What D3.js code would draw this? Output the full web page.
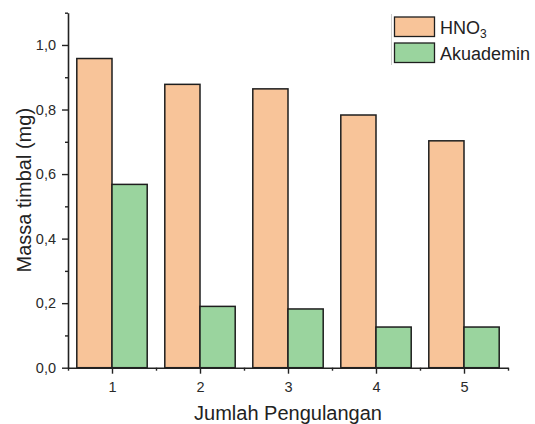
<!DOCTYPE html>
<html>
<head>
<meta charset="utf-8">
<script src="https://cdn.jsdelivr.net/npm/d3@7/dist/d3.min.js"></script>
<style>
  html, body { margin: 0; padding: 0; background: #fff; }
  svg { display: block; font-family: "Liberation Sans", Arial, sans-serif; }
</style>
</head>
<body>
<svg id="chart" width="535" height="424"></svg>
<script>
const categories = [1, 2, 3, 4, 5];
const hno3 = [0.958, 0.878, 0.864, 0.783, 0.703];
const akuademin = [0.568, 0.190, 0.182, 0.126, 0.126];
const seriesNames = ["HNO3", "Akuademin"];
const yMajorTicks = [0, 0.2, 0.4, 0.6, 0.8, 1.0];
const yMinorTicks = [0.1, 0.3, 0.5, 0.7, 0.9, 1.1];
const xMinorTicks = [0.5, 1.5, 2.5, 3.5, 4.5, 5.5];

const colors = ["#F8C499", "#9AD49E"];
const svg = d3.select("#chart");

const x = d3.scaleLinear().domain([0.5, 5.5]).range([68, 508]);
const y = d3.scaleLinear().domain([0, 1.1]).range([367.7, 12.7]);
const barW = 0.4;

const data = categories.map((c, i) => ({ c, v: [hno3[i], akuademin[i]] }));

// bars
const g = svg.append("g");
data.forEach(d => {
  d.v.forEach((v, s) => {
    const x0 = s === 0 ? d.c - barW : d.c;
    g.append("rect")
      .attr("x", x(x0))
      .attr("y", y(v))
      .attr("width", x(x0 + barW) - x(x0))
      .attr("height", y(0) - y(v))
      .attr("fill", colors[s])
      .attr("stroke", "#1e1e1e")
      .attr("stroke-width", 1.5);
  });
});

const fmt = d => d3.format(".1f")(d).replace(".", ",");

// y axis
svg.append("g").attr("transform", `translate(${x(0.5)},0)`)
  .call(d3.axisLeft(y).tickValues(yMajorTicks).tickFormat(fmt).tickSize(6).tickSizeOuter(0).tickPadding(6));
svg.append("g").attr("transform", `translate(${x(0.5)},0)`)
  .call(d3.axisLeft(y).tickValues(yMinorTicks).tickFormat("").tickSize(3).tickSizeOuter(0))
  .select(".domain").remove();

// x axis
svg.append("g").attr("transform", `translate(0,${y(0)})`)
  .call(d3.axisBottom(x).tickValues(categories).tickFormat(d3.format("d")).tickSize(6).tickSizeOuter(0).tickPadding(8));
svg.append("g").attr("transform", `translate(0,${y(0)})`)
  .call(d3.axisBottom(x).tickValues(xMinorTicks).tickFormat("").tickSize(3).tickSizeOuter(0))
  .select(".domain").remove();

svg.selectAll(".domain").attr("stroke", "#222").attr("stroke-width", 1.6);
svg.selectAll(".tick line").attr("stroke", "#222").attr("stroke-width", 1.4);
svg.selectAll(".tick text").attr("font-size", 14.5).attr("fill", "#2a2a2a")
  .attr("font-family", "'Liberation Sans', Arial, sans-serif");

// axis titles
svg.append("text")
  .attr("x", x(3)).attr("y", 420)
  .attr("text-anchor", "middle")
  .attr("font-size", 20).attr("fill", "#222")
  .text("Jumlah Pengulangan");

svg.append("text")
  .attr("transform", `translate(31,${(y(0) + y(1.1)) / 2}) rotate(-90)`)
  .attr("text-anchor", "middle")
  .attr("font-size", 20).attr("fill", "#222")
  .text("Massa timbal (mg)");

// legend
const lg = svg.append("g");
lg.append("line").attr("x1", 391.5).attr("x2", 391.5).attr("y1", 14).attr("y2", 65)
  .attr("stroke", "#ccc").attr("stroke-width", 1);
const legY = [17, 43];
seriesNames.forEach((n, i) => {
  lg.append("rect").attr("x", 394.5).attr("y", legY[i]).attr("width", 40).attr("height", 19.5)
    .attr("fill", colors[i]).attr("stroke", "#1e1e1e").attr("stroke-width", 1.3);
  const t = lg.append("text").attr("x", 440).attr("y", legY[i] + 16.5)
    .attr("font-size", 18).attr("fill", "#222");
  if (n === "HNO3") {
    t.append("tspan").text("HNO");
    t.append("tspan").attr("font-size", 12).attr("dy", 4).text("3");
  } else {
    t.text(n);
  }
});
</script>
</body>
</html>
